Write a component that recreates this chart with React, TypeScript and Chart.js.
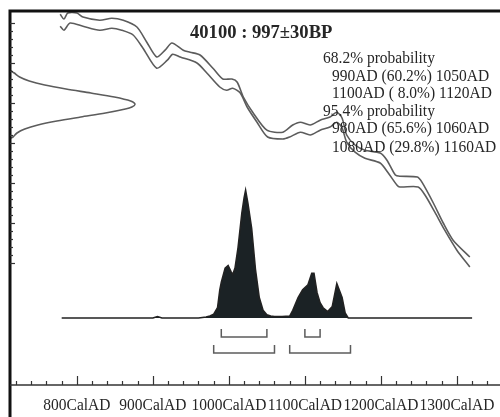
import React, { useEffect, useRef } from "react";
import { Chart, registerables } from "chart.js";

Chart.register(...registerables);

// ---------- data ----------
const titleText = "40100 : 997±30BP";
const probHeaders = ["68.2% probability", "95.4% probability"];
const probRanges68 = ["990AD (60.2%) 1050AD", "1100AD ( 8.0%) 1120AD"];
const probRanges95 = ["980AD (65.6%) 1060AD", "1080AD (29.8%) 1160AD"];

// calibration curve (upper / lower edge): calendar year AD, radiocarbon age BP
const upperYears = [778, 783, 788, 800, 808, 830, 846, 861, 879, 892, 905, 916, 925, 940, 949, 962, 979, 992, 1004, 1011, 1019, 1032, 1050, 1071, 1084, 1094, 1107, 1120, 1133, 1142, 1149, 1155, 1166, 1179, 1199, 1208, 1219, 1225, 1248, 1254, 1269, 1282, 1295, 1317];
const upperBP = [1222, 1210, 1225, 1225, 1215, 1207, 1212, 1207, 1190, 1152, 1115, 1132, 1150, 1132, 1127, 1120, 1087, 1060, 1060, 1052, 1015, 975, 932, 927, 945, 952, 945, 957, 965, 977, 962, 920, 895, 882, 875, 857, 820, 817, 815, 802, 750, 700, 657, 615];
const lowerYears = [778, 783, 791, 808, 830, 846, 859, 874, 887, 905, 919, 926, 936, 958, 971, 988, 997, 1005, 1015, 1024, 1037, 1051, 1071, 1080, 1094, 1107, 1120, 1133, 1142, 1149, 1155, 1166, 1179, 1199, 1209, 1221, 1225, 1249, 1258, 1271, 1284, 1300, 1317];
const lowerBP = [1192, 1182, 1200, 1192, 1182, 1187, 1182, 1170, 1137, 1087, 1107, 1122, 1115, 1100, 1075, 1040, 1032, 1037, 1025, 990, 952, 915, 910, 915, 927, 920, 932, 940, 952, 937, 902, 877, 862, 850, 827, 795, 790, 790, 770, 727, 682, 632, 590];

// measured radiocarbon date distribution: BP vs relative probability
const gaussBP = [1082, 1075, 1065, 1055, 1045, 1035, 1025, 1015, 1005, 997, 990, 985, 975, 965, 955, 945, 935, 925, 915, 912];
const gaussP = [0, 0.034, 0.077, 0.154, 0.278, 0.448, 0.647, 0.835, 0.965, 1, 0.975, 0.923, 0.764, 0.566, 0.375, 0.223, 0.118, 0.056, 0.024, 0];

// calibrated distribution: calendar year AD vs relative probability
const calYears = [780, 900, 906, 912, 960, 970, 975, 980, 985, 988, 990, 995, 999, 1003, 1005, 1008, 1012, 1017, 1020, 1022, 1025, 1030, 1035, 1040, 1045, 1050, 1055, 1060, 1070, 1080, 1084, 1091, 1097, 1104, 1109, 1112, 1116, 1120, 1124, 1130, 1136, 1142, 1149, 1153, 1157, 1320];
const calP = [0, 0, 0.012, 0, 0, 0.008, 0.016, 0.03, 0.08, 0.22, 0.28, 0.39, 0.41, 0.36, 0.34, 0.39, 0.55, 0.82, 0.94, 1.0, 0.9, 0.7, 0.38, 0.16, 0.06, 0.025, 0.015, 0.012, 0.012, 0.015, 0.06, 0.16, 0.22, 0.26, 0.35, 0.35, 0.2, 0.12, 0.08, 0.05, 0.09, 0.27, 0.16, 0.04, 0, 0];

// ranges (start, end) in years AD
const range68Start = [990, 1100];
const range68End = [1050, 1120];
const range95Start = [980, 1080];
const range95End = [1060, 1160];

// axis ticks
const xLabelYears = [800, 900, 1000, 1100, 1200, 1300];
const xLabelSuffix = "CalAD";
const xMinorFrom = 720, xMinorTo = 1340, xMinorStep = 20;
const yMajorFrom = 600, yMajorTo = 1200, yMajorStep = 100, yMinorStep = 20;

// ---------- styles ----------
const SERIF = "'Liberation Serif', 'Times New Roman', serif";
const CURVE_COLOR = "#5c5c5c";
const FILL_COLOR = "#1b2225";
const TEXT_COLOR = "#262626";
const LEVEL68 = { base: -0.148, top: -0.086 };
const LEVEL95 = { base: -0.273, top: -0.211 };

function bracketData(starts: number[], ends: number[], lvl: { base: number; top: number }) {
  const out: any[] = [];
  starts.forEach((s, i) => {
    const e = ends[i];
    out.push({ x: s, y: lvl.top }, { x: s, y: lvl.base }, { x: e, y: lvl.base }, { x: e, y: lvl.top }, { x: (s + e) / 2, y: null });
  });
  return out;
}

function drawText(ctx: CanvasRenderingContext2D, text: string, x: number, y: number, font: string, sy: number, align: CanvasTextAlign = "left") {
  ctx.save();
  ctx.translate(x, y);
  ctx.scale(1, sy);
  ctx.font = font;
  ctx.textAlign = align;
  ctx.textBaseline = "alphabetic";
  ctx.fillStyle = TEXT_COLOR;
  ctx.fillText(text, 0, 0);
  ctx.restore();
}

const framePlugin = {
  id: "oxcalFrame",
  afterDraw(chart: any) {
    const { ctx, chartArea, scales } = chart;
    const xs = scales.x;
    const ys = scales.y;
    ctx.save();
    // keep the right edge open (no frame on that side)
    ctx.fillStyle = "#fff";
    ctx.fillRect(chart.width - 7, chartArea.top + 2, 7, chartArea.bottom - chartArea.top - 4);
    // left and top thick border
    ctx.strokeStyle = "#111";
    ctx.lineWidth = 3;
    ctx.beginPath();
    ctx.moveTo(chartArea.left, chart.height);
    ctx.lineTo(chartArea.left, chartArea.top);
    ctx.lineTo(chart.width, chartArea.top);
    ctx.stroke();
    // bottom axis line
    ctx.strokeStyle = "#333";
    ctx.lineWidth = 1.5;
    ctx.beginPath();
    ctx.moveTo(chartArea.left, chartArea.bottom);
    ctx.lineTo(chart.width, chartArea.bottom);
    ctx.stroke();
    // x ticks
    ctx.lineWidth = 1.2;
    for (let v = xMinorFrom; v <= xMinorTo; v += xMinorStep) {
      const px = Math.round(xs.getPixelForValue(v)) + 0.5;
      const major = v % 100 === 0;
      ctx.beginPath();
      ctx.moveTo(px, chartArea.bottom);
      ctx.lineTo(px, chartArea.bottom - (major ? 9 : 4));
      ctx.stroke();
    }
    // y ticks
    for (let v = yMajorFrom; v <= yMajorTo; v += yMinorStep) {
      const py = Math.round(ys.getPixelForValue(v)) + 0.5;
      const major = v % yMajorStep === 0;
      ctx.beginPath();
      ctx.moveTo(chartArea.left, py);
      ctx.lineTo(chartArea.left + (major ? 5 : 3), py);
      ctx.stroke();
    }
    // x labels
    xLabelYears.forEach((v) => {
      drawText(ctx, v + xLabelSuffix, xs.getPixelForValue(v), chartArea.bottom + 25, `15.5px ${SERIF}`, 1.12, "center");
    });
    // title & probability text
    drawText(ctx, titleText, 190, 37.5, `bold 18.6px ${SERIF}`, 1.0);
    const f = `15.5px ${SERIF}`;
    drawText(ctx, probHeaders[0], 323, 63, f, 1.12);
    drawText(ctx, probRanges68[0], 332, 80.5, f, 1.12);
    drawText(ctx, probRanges68[1], 332, 98, f, 1.12);
    drawText(ctx, probHeaders[1], 323, 115.5, f, 1.12);
    drawText(ctx, probRanges95[0], 332, 133, f, 1.12);
    drawText(ctx, probRanges95[1], 332, 151.5, f, 1.12);
    ctx.restore();
  },
};

export default function App() {
  const ref = useRef<HTMLCanvasElement | null>(null);
  useEffect(() => {
    document.body.style.margin = "0";
    document.body.style.overflow = "hidden";
    const canvas = ref.current;
    if (!canvas) return;
    const chart = new Chart(canvas, {
      type: "line",
      data: {
        datasets: [
          {
            label: "calibrated",
            data: calYears.map((x, i) => ({ x, y: calP[i] })),
            xAxisID: "x",
            yAxisID: "yp",
            borderColor: "#222",
            borderWidth: 1.5,
            backgroundColor: FILL_COLOR,
            fill: { value: 0 },
            pointRadius: 0,
            tension: 0,
          },
          {
            label: "curve upper",
            data: upperYears.map((x, i) => ({ x, y: upperBP[i] })),
            xAxisID: "x",
            yAxisID: "y",
            borderColor: CURVE_COLOR,
            borderWidth: 1.6,
            pointRadius: 0,
            fill: false,
            tension: 0.25,
          },
          {
            label: "curve lower",
            data: lowerYears.map((x, i) => ({ x, y: lowerBP[i] })),
            xAxisID: "x",
            yAxisID: "y",
            borderColor: CURVE_COLOR,
            borderWidth: 1.6,
            pointRadius: 0,
            fill: false,
            tension: 0.25,
          },
          {
            label: "radiocarbon",
            data: gaussBP.map((y, i) => ({ x: gaussP[i], y })),
            xAxisID: "xg",
            yAxisID: "y",
            borderColor: CURVE_COLOR,
            borderWidth: 1.6,
            pointRadius: 0,
            fill: false,
            tension: 0.3,
          },
          {
            label: "68.2%",
            data: bracketData(range68Start, range68End, LEVEL68),
            xAxisID: "x",
            yAxisID: "yp",
            borderColor: CURVE_COLOR,
            borderWidth: 1.5,
            pointRadius: 0,
            spanGaps: false,
            fill: false,
            tension: 0,
          },
          {
            label: "95.4%",
            data: bracketData(range95Start, range95End, LEVEL95),
            xAxisID: "x",
            yAxisID: "yp",
            borderColor: CURVE_COLOR,
            borderWidth: 1.5,
            pointRadius: 0,
            spanGaps: false,
            fill: false,
            tension: 0,
          },
        ],
      },
      options: {
        animation: false,
        responsive: false,
        devicePixelRatio: 1,
        layout: { padding: { left: 10, top: 11, right: 20, bottom: 32 } },
        plugins: { legend: { display: false }, tooltip: { enabled: false } },
        scales: {
          x: { type: "linear", min: 712, max: 1330.4, display: false },
          xg: { type: "linear", min: 0, max: 3.76, display: false },
          y: { type: "linear", min: 295, max: 1230, display: false },
          yp: { type: "linear", min: -0.5234, max: 2.398, display: false },
        },
      },
      plugins: [framePlugin],
    });
    return () => chart.destroy();
  }, []);
  return (
    <div style={{ position: "absolute", left: 0, top: 0, width: 500, height: 417, overflow: "hidden", background: "#fff" }}>
      <canvas ref={ref} width={500} height={417} style={{ display: "block" }} />
    </div>
  );
}
